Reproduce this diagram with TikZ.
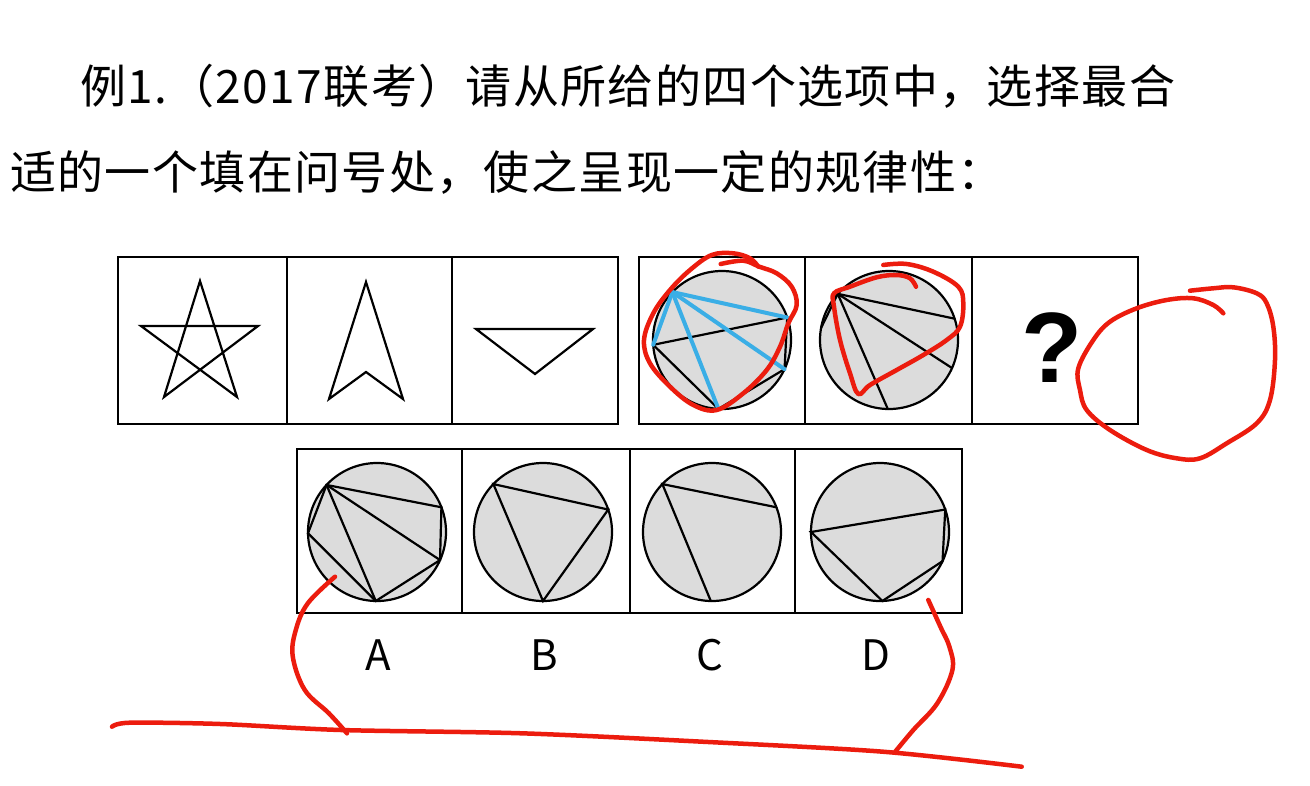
\documentclass[tikz,border=0pt]{standalone}
\usepackage{fontspec}
\newfontfamily\cjk{Noto Sans CJK SC}
\newfontfamily\cjkwide[LetterSpace=3]{Noto Sans CJK SC}
\newfontfamily\qfont{Liberation Sans}
\usetikzlibrary{calc}
\definecolor{pengray}{HTML}{DCDCDC}
\definecolor{annred}{HTML}{EC1C0E}
\definecolor{annblue}{HTML}{3AAEE6}
\tikzset{
  frame/.style={draw=black, line width=2.5pt},
  disc/.style={draw=black, fill=pengray, line width=2.2pt},
  chord/.style={draw=black, line width=2.2pt, line cap=round},
  bluechord/.style={draw=annblue, line width=4pt, line cap=round},
  ink/.style={draw=annred, line width=4.5pt, line cap=round, line join=round},
  fig/.style={draw=black, line width=2.2pt, line join=miter},
  title/.style={anchor=west, inner sep=0pt, font=\cjkwide\fontsize{46}{46}\selectfont},
  optlabel/.style={inner sep=0pt, font=\cjk\fontsize{42}{42}\selectfont},
}
\begin{document}
\begin{tikzpicture}[x=1pt,y=-1pt]
\useasboundingbox[fill=white] (0,0) rectangle (1310,785);

% title
\node[title] (l1) at (80,86) {例1.（2017联考）请从所给的四个选项中，选择最合};
\node[title] (l2) at (10,172) {适的一个填在问号处，使之呈现一定的规律性：};

% top-left group
\draw[frame] (118,257) rectangle (618,424);
\draw[frame] (287,257) -- (287,424);
\draw[frame] (452,257) -- (452,424);
\draw[fig] (200,281) -- (164,397) -- (258,326) -- (141,326) -- (237,397) -- cycle;
\draw[fig] (366,282) -- (329,399) -- (366,372) -- (403,399) -- cycle;
\draw[fig] (476,329) -- (593,329) -- (535,374) -- cycle;

% top-right group
\draw[frame] (639,257) rectangle (1138,424);
\draw[frame] (805,257) -- (805,424);
\draw[frame] (972,257) -- (972,424);

% circle 4
\coordinate (c4) at (722,340);
\draw[disc] (c4) circle[radius=69];
\coordinate (c4a) at ($(c4)+(-136:69)$);
\coordinate (c4b) at ($(c4)+(-19:69)$);
\coordinate (c4c) at ($(c4)+(176:69)$);
\coordinate (c4d) at ($(c4)+(25:69)$);
\coordinate (c4e) at ($(c4)+(93:69)$);
\draw[chord] (c4c) -- (c4b);
\draw[chord] (c4c) -- (c4e) -- (c4d) -- (c4b);
\draw[bluechord] (c4a) -- (c4b);
\draw[bluechord] (c4a) -- (c4d);
\draw[bluechord] (c4a) -- (c4e);
\draw[bluechord] (c4a) -- (c4c);

% circle 5
\coordinate (c5) at (889,340);
\draw[disc] (c5) circle[radius=69];
\coordinate (c5a) at ($(c5)+(-138:69)$);
\coordinate (c5b) at ($(c5)+(-18:69)$);
\coordinate (c5c) at ($(c5)+(24:69)$);
\coordinate (c5d) at ($(c5)+(91:69)$);
\coordinate (c5e) at ($(c5)+(190:69)$);
\draw[chord] (c5a) -- (c5b);
\draw[chord] (c5a) -- (c5c);
\draw[chord] (c5a) -- (c5d);
\draw[chord] (c5a) -- (c5e);

\node[inner sep=0pt, font=\qfont\bfseries\fontsize{100}{100}\selectfont] (qm) at (1052,348) {?};

% options row
\draw[frame] (297,449) rectangle (962,613);
\draw[frame] (462,449) -- (462,613);
\draw[frame] (630,449) -- (630,613);
\draw[frame] (795,449) -- (795,613);

% option A
\coordinate (oa) at (377,532);
\draw[disc] (oa) circle[radius=69];
\coordinate (oa1) at ($(oa)+(-137:69)$);
\coordinate (oa2) at ($(oa)+(-21:69)$);
\coordinate (oa3) at ($(oa)+(24:69)$);
\coordinate (oa4) at ($(oa)+(91:69)$);
\coordinate (oa5) at ($(oa)+(179:69)$);
\draw[chord] (oa1) -- (oa2) -- (oa3) -- (oa4) -- (oa5) -- cycle;
\draw[chord] (oa1) -- (oa3);
\draw[chord] (oa1) -- (oa4);

% option B
\coordinate (ob) at (543,532);
\draw[disc] (ob) circle[radius=69];
\coordinate (ob1) at ($(ob)+(-136:69)$);
\coordinate (ob2) at ($(ob)+(-19:69)$);
\coordinate (ob3) at ($(ob)+(90:69)$);
\draw[chord] (ob1) -- (ob2) -- (ob3) -- cycle;

% option C
\coordinate (oc) at (712,532);
\draw[disc] (oc) circle[radius=69];
\coordinate (oc1) at ($(oc)+(-136:69)$);
\coordinate (oc2) at ($(oc)+(-21:69)$);
\coordinate (oc3) at ($(oc)+(91:69)$);
\draw[chord] (oc2) -- (oc1) -- (oc3);

% option D
\coordinate (od) at (880,532);
\draw[disc] (od) circle[radius=69];
\coordinate (od1) at ($(od)+(180:69)$);
\coordinate (od2) at ($(od)+(-19:69)$);
\coordinate (od3) at ($(od)+(25:69)$);
\coordinate (od4) at ($(od)+(88:69)$);
\draw[chord] (od1) -- (od2) -- (od3) -- (od4) -- cycle;

\node[optlabel] (la) at (378,655) {A};
\node[optlabel] (lb) at (544,655) {B};
\node[optlabel] (lc) at (710,655) {C};
\node[optlabel] (ld) at (876,655) {D};

% red annotations
\draw[ink] plot[smooth, tension=0.6] coordinates {
  (720.7,264) (743.3,260.7) (759.3,266.7) (776.7,273.3) (791.7,286.7) (796.7,305)
  (788.3,323.3) (780,346.7) (766.7,370) (743.3,393.3) (716.7,410) (693.3,405)
  (670,386.7) (650,363.3) (644,340) (653.3,313.3) (670,290) (690,270)
  (711.7,255) (733.3,253.3) (750,258.3) (758.3,266.7)};
\draw[ink] plot[smooth, tension=0.6] coordinates {
  (883.3,265) (906.7,264) (933.3,271.7) (958.3,286.7) (963.3,303.3) (960,326.7)
  (946.7,340) (923.3,355) (896.7,370) (870,385) (858.3,394) (850,373.3)
  (840,340) (834,306.7) (834,293.3) (850,286.7) (876.7,277.3) (896.7,275)
  (910,278.3) (916,286.7)};
\draw[ink] plot[smooth, tension=0.6] coordinates {
  (1223.3,313.3) (1213.3,305) (1193.3,298.3) (1166.7,300) (1136.7,308.3)
  (1110,321.7) (1093.3,340) (1078.3,368.3) (1080,390) (1086.7,410) (1110,430)
  (1146.7,450) (1176.7,458.3) (1200,458.3) (1226.7,443.3) (1256.7,423.3)
  (1270,400) (1275,360) (1273.3,326.7) (1266.7,303.3) (1256.7,293.3)
  (1233.3,287.3) (1213.3,288.3) (1190,290.7)};
\draw[ink] plot[smooth, tension=0.6] coordinates {
  (335,576.7) (307.8,603.3) (295.8,630) (292.8,656.7) (304.8,690) (328.9,713.3) (347,733.3)};
\draw[ink] plot[smooth, tension=0.6] coordinates {
  (928.3,600) (940.4,626.7) (949.4,646.7) (952.4,670) (937.3,703.3) (913.3,730) (895.2,751.7)};
\draw[ink] plot[smooth, tension=0.5] coordinates {
  (112,726.7) (130,722.7) (220.5,724) (341,730) (521.7,733.3) (702.4,741.7) (883,751.7) (1021.7,766.7)};
\end{tikzpicture}
\end{document}
